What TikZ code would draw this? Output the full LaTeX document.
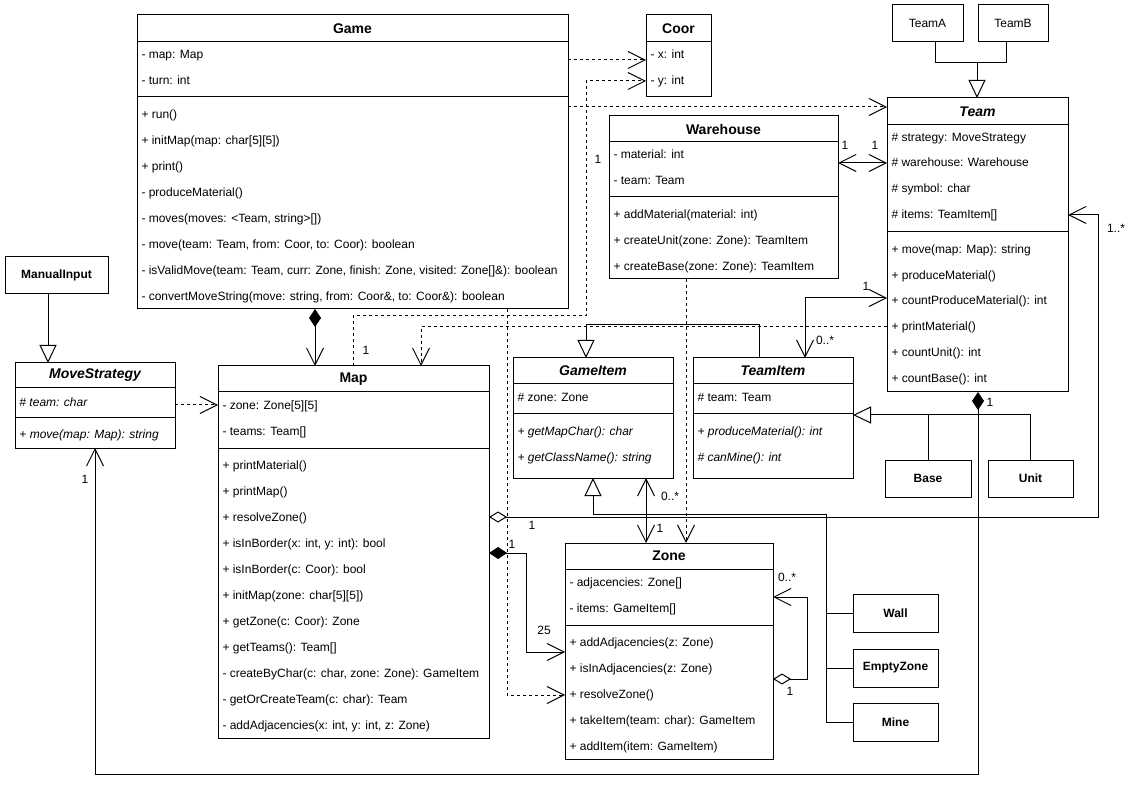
\documentclass[tikz,border=0pt]{standalone}
\usepackage{fontspec}
\setmainfont{Liberation Sans}
\usetikzlibrary{arrows.meta}

\tikzset{
  classbox/.style={draw, inner sep=0pt, outer sep=0pt},
  classtitle/.style={inner sep=0pt, font=\fontsize{14}{16}\selectfont\bfseries},
  member/.style={anchor=west, xshift=4pt, inner sep=0pt, font=\fontsize{12}{14}\selectfont, text height=9pt, text depth=2.5pt},
  plainbox/.style={draw, inner sep=0pt, outer sep=0pt, font=\fontsize{12}{14}\selectfont\bfseries},
  lbl/.style={inner sep=0pt, font=\fontsize{12}{14}\selectfont},
  dep/.style={dash pattern=on 3pt off 3pt},
  umlvee/.tip={Straight Barb[length=17pt, width=17pt]},
  umltri/.tip={Triangle[fill=white, length=18pt, width=17pt]},
  umldia/.tip={Diamond[length=18pt, width=12pt]},
  umlodia/.tip={Diamond[fill=white, length=18pt, width=11pt]},
}

% class frame: name, left, top, right, bottom, header line, title
\newcommand{\umlclass}[7]{%
  \node[classbox, minimum width={#4-#2}, minimum height={#5-#3}] (#1) at ({(#2+#4)/2},{(#3+#5)/2}) {};
  \node[classtitle] (#1-title) at ({(#2+#4)/2},{(#3+#6)/2}) {#7};
  \draw (#1.west |- 0,#6) -- (#1.east |- 0,#6);
}
\newcommand{\umldivider}[2]{\draw (#1.west |- 0,#2) -- (#1.east |- 0,#2);}
% rows: name, part, first y, step, texts
\newcommand{\umlrows}[5]{%
  \foreach \txt [count=\i from 0] in {#5}
    \node[member] (#1-#2\i) at (#1.west |- 0,{#3+#4*\i}) {\txt};
}

\begin{document}
\begin{tikzpicture}[x=1pt, y=-1pt, line width=1pt]
\useasboundingbox (0,0) rectangle (1130,799);
%
\umlclass{Game}{137}{15}{568}{309}{42}{Game}
\umldivider{Game}{97}
\umlrows{Game}{a}{55}{26}{{- map: Map},{- turn: int}}
\umlrows{Game}{m}{115}{26}{{+ run()},{+ initMap(map: char[5][5])},{+ print()},{- produceMaterial()},{- moves(moves: <Team, string>[])},{- move(team: Team, from: Coor, to: Coor): boolean},{- isValidMove(team: Team, curr: Zone, finish: Zone, visited: Zone[]\&): boolean},{- convertMoveString(move: string, from: Coor\&, to: Coor\&): boolean}}
%
\umlclass{Coor}{646}{15}{711}{97}{42}{Coor}
\umlrows{Coor}{a}{55}{26}{{- x: int},{- y: int}}
%
\umlclass{Team}{887}{98}{1068}{392}{125}{\itshape Team}
\umldivider{Team}{232}
\umlrows{Team}{a}{138}{25.7}{{\# strategy: MoveStrategy},{\# warehouse: Warehouse},{\# symbol: char},{\# items: TeamItem[]}}
\umlrows{Team}{m}{250}{25.8}{{+ move(map: Map): string},{+ produceMaterial()},{+ countProduceMaterial(): int},{+ printMaterial()},{+ countUnit(): int},{+ countBase(): int}}
%
\umlclass{Warehouse}{609}{116}{838}{279}{142}{Warehouse}
\umldivider{Warehouse}{197}
\umlrows{Warehouse}{a}{155}{26}{{- material: int},{- team: Team}}
\umlrows{Warehouse}{m}{215}{26}{{+ addMaterial(material: int)},{+ createUnit(zone: Zone): TeamItem},{+ createBase(zone: Zone): TeamItem}}
%
\umlclass{MoveStrategy}{15}{363}{175}{448}{388}{\itshape MoveStrategy}
\umldivider{MoveStrategy}{418}
\umlrows{MoveStrategy}{a}{403}{26}{{\itshape \# team: char}}
\umlrows{MoveStrategy}{m}{435}{26}{{\itshape + move(map: Map): string}}
%
\umlclass{Map}{218}{366}{489}{738}{392}{Map}
\umldivider{Map}{448}
\umlrows{Map}{a}{406}{26}{{- zone: Zone[5][5]},{- teams: Team[]}}
\umlrows{Map}{m}{466}{26}{{+ printMaterial()},{+ printMap()},{+ resolveZone()},{+ isInBorder(x: int, y: int): bool},{+ isInBorder(c: Coor): bool},{+ initMap(zone: char[5][5])},{+ getZone(c: Coor): Zone},{+ getTeams(): Team[]},{- createByChar(c: char, zone: Zone): GameItem},{- getOrCreateTeam(c: char): Team},{- addAdjacencies(x: int, y: int, z: Zone)}}
%
\umlclass{GameItem}{513}{358}{673}{478}{384}{\itshape GameItem}
\umldivider{GameItem}{414}
\umlrows{GameItem}{a}{398}{26}{{\# zone: Zone}}
\umlrows{GameItem}{m}{432}{26}{{\itshape + getMapChar(): char},{\itshape + getClassName(): string}}
%
\umlclass{TeamItem}{693}{358}{853}{478}{384}{\itshape TeamItem}
\umldivider{TeamItem}{414}
\umlrows{TeamItem}{a}{398}{26}{{\# team: Team}}
\umlrows{TeamItem}{m}{432}{26}{{\itshape + produceMaterial(): int},{\itshape \# canMine(): int}}
%
\umlclass{Zone}{565}{543}{773}{759}{569}{Zone}
\umldivider{Zone}{625}
\umlrows{Zone}{a}{583}{26}{{- adjacencies: Zone[]},{- items: GameItem[]}}
\umlrows{Zone}{m}{643}{26}{{+ addAdjacencies(z: Zone)},{+ isInAdjacencies(z: Zone)},{+ resolveZone()},{+ takeItem(team: char): GameItem},{+ addItem(item: GameItem)}}
%
\node[plainbox, minimum width=71, minimum height=37, font=\fontsize{12}{14}\selectfont] (TeamA) at (927.5,23.5) {TeamA};
\node[plainbox, minimum width=70, minimum height=37, font=\fontsize{12}{14}\selectfont] (TeamB) at (1013,23.5) {TeamB};
\node[plainbox, minimum width=103, minimum height=37] (ManualInput) at (56.5,275.5) {ManualInput};
\node[plainbox, minimum width=86, minimum height=37] (Base) at (928,478.5) {Base};
\node[plainbox, minimum width=85, minimum height=37] (Unit) at (1030.5,478.5) {Unit};
\node[plainbox, minimum width=85, minimum height=38] (Wall) at (895.5,613) {Wall};
\node[plainbox, minimum width=85, minimum height=38] (EmptyZone) at (895.5,668) {EmptyZone};
\node[plainbox, minimum width=85, minimum height=38] (Mine) at (895.5,722) {Mine};
%
% generalizations
\coordinate (teamjoin) at (977,63);
\draw (TeamA.south -| 935,0) |- (teamjoin);
\draw (TeamB.south -| 1006,0) |- (teamjoin);
\draw[-umltri] (teamjoin) -- (Team.north -| teamjoin);
\draw[-umltri] (ManualInput.south -| 48,0) -- (MoveStrategy.north -| 48,0);
\coordinate (itemjoin) at (586,325);
\draw[-umltri] (TeamItem.north -| 759,0) |- (itemjoin) -- (GameItem.north -| itemjoin);
\draw (Base.north) -- (Base.north |- 0,415);
\draw[-umltri] (Unit.north) |- (TeamItem.east |- 0,415);
\coordinate (zonejoin) at (826,514);
\draw (Wall.west) -- (Wall.west -| zonejoin);
\draw (EmptyZone.west) -- (EmptyZone.west -| zonejoin);
\draw[-umltri] (Mine.west) -| (zonejoin) -| (GameItem.south -| 593,0);
%
% dependencies
\draw[dep, -umlvee] (Game.east |- 0,60) -- (Coor.west |- 0,60);
\draw[dep, -umlvee] (Map.north -| 353,0) |- (586,316) |- (Coor.west |- 0,81);
\draw[dep, -umlvee] (Game.east |- 0,107) -- (Team.west |- 0,107);
\draw[dep, -umlvee] (Team.west |- 0,327) -| (Map.north -| 421,0);
\draw[dep, -umlvee] (MoveStrategy.east |- 0,405) -- (Map.west |- 0,405);
\draw[dep, -umlvee] (Warehouse.south -| 686,0) -- (Zone.north -| 686,0);
\draw[dep, -umlvee] (Game.south -| 507,0) |- (Zone.west |- 0,695);
%
% associations
\draw[umldia-umlvee] (Game.south -| 315,0) -- (Map.north -| 315,0);
\draw[umlvee-umlvee] (Warehouse.east |- 0,163) -- (Team.west |- 0,163);
\draw[umlvee-umlvee] (Team.west |- 0,298) -| (TeamItem.north -| 805,0);
\draw[umlvee-umlvee] (GameItem.south -| 646,0) -- (Zone.north -| 646,0);
\draw[umldia-umlvee] (Map.east |- 0,553) -| (526,652) -- (Zone.west |- 0,652);
\draw[umlodia-umlvee] (Map.east |- 0,517) -| (1098,215) -- (Team.east |- 0,215);
\draw[umlodia-umlvee] (Zone.east |- 0,679) -| (807,597) -- (Zone.east |- 0,597);
\draw[umldia-umlvee] (Team.south -| 978,0) |- (95,774) -- (MoveStrategy.south -| 95,0);
%
% multiplicities
\node[lbl] (m1) at (366,350) {1};
\node[lbl] (m2) at (598,159) {1};
\node[lbl] (m3) at (845,145) {1};
\node[lbl] (m4) at (875,145) {1};
\node[lbl] (m5) at (866,286) {1};
\node[lbl] (m6) at (825,340) {0..*};
\node[lbl] (m7) at (1116,228) {1..*};
\node[lbl] (m8) at (990,402) {1};
\node[lbl] (m9) at (85,479) {1};
\node[lbl] (m10) at (532,525) {1};
\node[lbl] (m11) at (512,544) {1};
\node[lbl] (m12) at (544,630) {25};
\node[lbl] (m13) at (670,496) {0..*};
\node[lbl] (m14) at (660,528) {1};
\node[lbl] (m15) at (787,577) {0..*};
\node[lbl] (m16) at (790,691) {1};
\end{tikzpicture}
\end{document}
